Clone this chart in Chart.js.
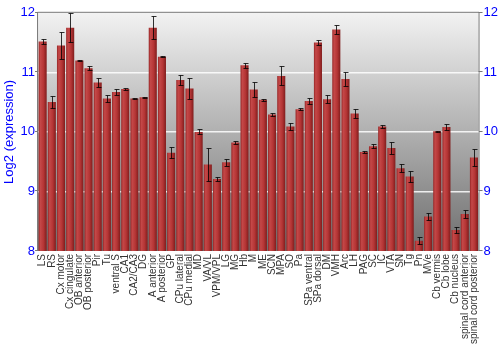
<!DOCTYPE html>
<html>
<head>
<meta charset="utf-8">
<script src="https://cdn.jsdelivr.net/npm/chart.js@4"></script>
<style>
  html, body { margin: 0; padding: 0; background: #fff; }
  #wrap { width: 500px; height: 350px; }
</style>
</head>
<body>
<div id="wrap"><canvas id="chart"></canvas></div>
<script>
// Regions (x axis)
const regions = ['LS', 'RS', 'Cx motor', 'Cx cingulate', 'OB anterior', 'OB posterior', 'Pir', 'Tu',
  'ventral S', 'CA1', 'CA2/CA3', 'DG', 'A anterior', 'A posterior', 'GP', 'CPu lateral', 'CPu medial',
  'MD', 'VA/VL', 'VPM/VPL', 'LG', 'MG', 'Hb', 'M', 'ME', 'SCN', 'MPA', 'SO', 'Pa', 'SPa ventral',
  'SPa dorsal', 'DM', 'VMH', 'Arc', 'LH', 'PAG', 'SC', 'IC', 'VTA', 'SN', 'Tg', 'Pn', 'MVe',
  'Cb vermis', 'Cb lobe', 'Cb nucleus', 'spinal cord anterior', 'spinal cord posterior'];

// Log2 expression per region
const expression = [11.52, 10.50, 11.45, 11.75, 11.20, 11.07, 10.83, 10.56,
  10.67, 10.72, 10.56, 10.58, 11.75, 11.26, 9.65, 10.87, 10.73,
  10.00, 9.45, 9.21, 9.49, 9.82, 11.12, 10.71, 10.54, 10.29, 10.94, 10.09, 10.38, 10.52,
  11.50, 10.55, 11.72, 10.89, 10.31, 9.66, 9.76, 10.09, 9.73, 9.39, 9.25, 8.17, 8.58,
  10.01, 10.08, 8.35, 8.62, 9.57];

// error (+/-)
const errors = [0.04, 0.10, 0.22, 0.24, 0.01, 0.03, 0.07, 0.065,
  0.05, 0.01, 0.015, 0.01, 0.19, 0.01, 0.09, 0.08, 0.18,
  0.04, 0.28, 0.03, 0.055, 0.02, 0.04, 0.12, 0.02, 0.03, 0.16, 0.065, 0.02, 0.05,
  0.04, 0.07, 0.08, 0.12, 0.08, 0.02, 0.03, 0.03, 0.10, 0.07, 0.10, 0.06, 0.06,
  0.01, 0.055, 0.05, 0.06, 0.14];

const yTicks = [8, 9, 10, 11, 12];

// fond dégradé de la zone du graphique + cadre et petits traits de graduation
const plotBackground = {
  id: 'plotBackground',
  beforeDraw(chart) {
    const { ctx, chartArea: a } = chart;
    const y = chart.scales.y;
    const g = ctx.createLinearGradient(0, a.top, 0, a.bottom);
    g.addColorStop(0, '#f2f2f2');
    g.addColorStop(1, '#6e6e6e');
    ctx.save();
    ctx.fillStyle = g;
    ctx.fillRect(a.left, a.top, a.right - a.left, a.bottom - a.top);
    ctx.strokeStyle = '#777';
    ctx.lineWidth = 1;
    ctx.beginPath();
    ctx.moveTo(a.left - 0.5, a.bottom);
    ctx.lineTo(a.left - 0.5, a.top - 0.5);
    ctx.lineTo(a.right + 0.5, a.top - 0.5);
    ctx.lineTo(a.right + 0.5, a.bottom);
    yTicks.forEach(v => {
      const py = Math.round(y.getPixelForValue(v)) - 0.5;
      ctx.moveTo(a.left - 3, py); ctx.lineTo(a.left, py);
      ctx.moveTo(a.right, py); ctx.lineTo(a.right + 4, py);
    });
    ctx.stroke();
    ctx.restore();
  }
};

// barres d'erreur
const errorBars = {
  id: 'errorBars',
  afterDatasetsDraw(chart) {
    const { ctx } = chart;
    const y = chart.scales.y;
    const meta = chart.getDatasetMeta(0);
    ctx.save();
    ctx.strokeStyle = 'rgba(0,0,0,0.8)';
    ctx.lineWidth = 1;
    meta.data.forEach((bar, i) => {
      const x = Math.round(bar.x) + 0.5;
      const top = Math.round(y.getPixelForValue(expression[i] + errors[i])) + 0.5;
      const bot = Math.round(y.getPixelForValue(expression[i] - errors[i])) + 0.5;
      ctx.beginPath();
      ctx.moveTo(x, top); ctx.lineTo(x, bot);
      ctx.moveTo(x - 2, top); ctx.lineTo(x + 3, top);
      ctx.moveTo(x - 2, bot); ctx.lineTo(x + 3, bot);
      ctx.stroke();
    });
    ctx.restore();
  }
};

function barFill(context) {
  const chart = context.chart;
  const xs = chart.scales.x;
  if (!xs || !chart.chartArea) return '#b03232';
  const cx = xs.getPixelForValue(context.dataIndex);
  const w = 4.4;
  const g = chart.ctx.createLinearGradient(cx - w, 0, cx + w, 0);
  g.addColorStop(0, '#8e1f1f');
  g.addColorStop(0.25, '#c44848');
  g.addColorStop(0.6, '#b53535');
  g.addColorStop(1, '#7a1a1a');
  return g;
}

const blueTicks = { color: '#0000ff', font: { family: 'Liberation Sans', size: 13 } };

new Chart(document.getElementById('chart'), {
  type: 'bar',
  data: {
    labels: regions,
    datasets: [{
      data: expression,
      backgroundColor: barFill,
      borderWidth: 0,
      barPercentage: 0.88,
      categoryPercentage: 1.0
    }]
  },
  options: {
    responsive: true,
    maintainAspectRatio: false,
    animation: false,
    layout: { padding: { top: -3, right: -3, left: 2, bottom: 3 } },
    plugins: {
      legend: { display: false },
      tooltip: { enabled: false }
    },
    scales: {
      x: {
        grid: { display: false, drawTicks: false },
        border: { display: false },
        afterFit: (s) => { s.paddingLeft = 0; s.paddingRight = 0; },
        ticks: {
          color: '#333',
          autoSkip: false,
          maxRotation: 90,
          minRotation: 90,
          padding: 3,
          font: { family: 'Liberation Sans', size: 10 }
        }
      },
      y: {
        min: 8, max: 12,
        afterBuildTicks: (s) => { s.ticks = yTicks.map(v => ({ value: v })); },
        grid: {
          color: (c) => (c.tick.value === 8 || c.tick.value === 12) ? 'rgba(0,0,0,0)' : 'rgba(255,255,255,0.85)',
          lineWidth: 1.5,
          drawTicks: false
        },
        border: { display: false },
        ticks: { ...blueTicks, padding: 3 },
        title: {
          display: true,
          text: 'Log2 (expression)',
          color: '#0000ff',
          font: { family: 'Liberation Sans', size: 13 },
          padding: 0
        }
      },
      y2: {
        position: 'right',
        min: 8, max: 12,
        afterBuildTicks: (s) => { s.ticks = yTicks.map(v => ({ value: v })); },
        grid: { display: false, drawTicks: false },
        border: { display: false },
        ticks: { ...blueTicks, padding: 5 }
      }
    }
  },
  plugins: [plotBackground, errorBars]
});
</script>
</body>
</html>
